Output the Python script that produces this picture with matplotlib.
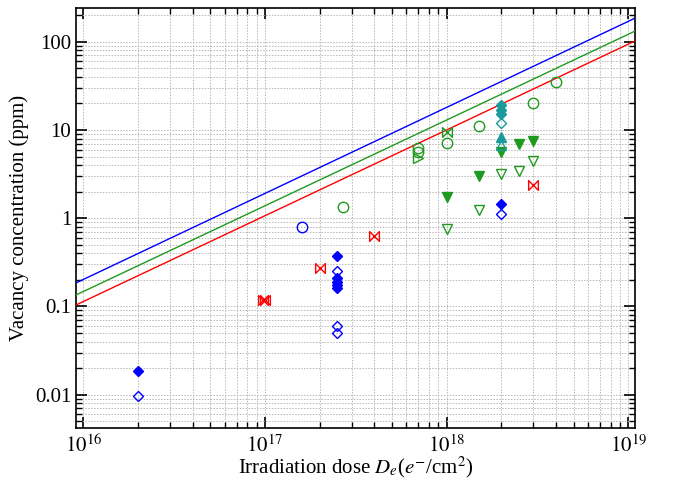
import matplotlib.pyplot as plt
from matplotlib.path import Path

plt.rcParams['font.family'] = ['Liberation Serif', 'DejaVu Serif']
plt.rcParams['mathtext.fontset'] = 'stix'

# ==== data (dose in e-/cm2, concentration in ppm) ====
line_x = [9.1e15, 1.09e19]
line_blue_y = [0.185, 185]
line_green_y = [0.135, 132]
line_red_y = [0.104, 102]

blue_fd_x = [2e16, 2.5e17, 2.5e17, 2.5e17, 2.5e17, 2.5e17, 2e18]
blue_fd_y = [0.0187, 0.37, 0.21, 0.19, 0.175, 0.16, 1.44]
blue_od_x = [2e16, 2.5e17, 2.5e17, 2.5e17, 2e18]
blue_od_y = [0.0097, 0.25, 0.06, 0.05, 1.12]
blue_oc_x = [1.6e17]
blue_oc_y = [0.80]

red_bt_x = [0.97e17, 1.0e17, 2e17, 4e17, 3e18]
red_bt_y = [0.118, 0.118, 0.273, 0.63, 2.38]

green_oc_x = [2.7e17, 7e17, 7e17, 1e18, 1.5e18, 3e18, 4e18]
green_oc_y = [1.34, 6.2, 5.7, 7.06, 11.2, 20.4, 35]
green_bt_x = [1e18]
green_bt_y = [9.6]
green_otr_x = [7e17]
green_otr_y = [4.8]
green_ftd_x = [1e18, 1.5e18, 2e18, 2.5e18, 3e18]
green_ftd_y = [1.73, 3.0, 5.7, 6.9, 7.6]
green_otd_x = [1e18, 1.5e18, 2e18, 2.5e18, 3e18]
green_otd_y = [0.757, 1.24, 3.18, 3.44, 4.4]

teal_fd_x = [2e18, 2e18, 2e18]
teal_fd_y = [19, 17, 15]
teal_od_x = [2e18]
teal_od_y = [12.1]
teal_ftu_x = [2e18]
teal_ftu_y = [8.3]
teal_otu_x = [2e18]
teal_otu_y = [6.8]

GREEN = "#1f9a1f"
TEAL = "#1a9a9a"

bowtie = Path([(-1, 1), (1, -1), (1, 1), (-1, -1), (-1, 1)],
              [Path.MOVETO, Path.LINETO, Path.LINETO, Path.LINETO, Path.CLOSEPOLY])

fig = plt.figure(figsize=(6.73, 4.83), dpi=100)
ax = fig.add_axes([0.113, 0.114, 0.8305, 0.869])
ax.set_xscale("log")
ax.set_yscale("log")

# ==== lines ====
ax.plot(line_x, line_blue_y, color="blue", lw=1.0, zorder=3)
ax.plot(line_x, line_green_y, color=GREEN, lw=1.0, zorder=3)
ax.plot(line_x, line_red_y, color="red", lw=1.0, zorder=3)

def pts(x, y, color, marker, filled, ms=7):
    ax.plot(x, y, ls="none", marker=marker, ms=ms, mew=1.0,
            mec=color, mfc=color if filled else "none", zorder=4)

pts(blue_fd_x, blue_fd_y, "blue", "D", True, 5.5)
pts(blue_od_x, blue_od_y, "blue", "D", False, 5.5)
pts(blue_oc_x, blue_oc_y, "blue", "o", False, 7.5)
pts(red_bt_x, red_bt_y, "red", bowtie, False, 7)
pts(green_oc_x, green_oc_y, GREEN, "o", False, 7.5)
pts(green_bt_x, green_bt_y, GREEN, bowtie, False, 7)
pts(green_otr_x, green_otr_y, GREEN, ">", False, 7)
pts(green_ftd_x, green_ftd_y, GREEN, "v", True, 7.5)
pts(green_otd_x, green_otd_y, GREEN, "v", False, 7.5)
pts(teal_fd_x, teal_fd_y, TEAL, "D", True, 5.5)
pts(teal_od_x, teal_od_y, TEAL, "D", False, 5.5)
pts(teal_ftu_x, teal_ftu_y, TEAL, "^", True, 7.5)
pts(teal_otu_x, teal_otu_y, TEAL, "^", False, 7.5)

# ==== axes ====
ax.set_xlim(9.1e15, 1.09e19)
ax.set_ylim(0.0042, 240)
ax.set_yticks([0.01, 0.1, 1, 10, 100])
ax.set_yticklabels(["0.01", "0.1", "1", "10", "100"])
ax.set_xticks([1e16, 1e17, 1e18, 1e19])
ax.set_xticklabels([r"$10^{16}$", r"$10^{17}$", r"$10^{18}$", r"$10^{19}$"])
ax.tick_params(which="both", direction="in", top=True, right=True, labelsize=15)
ax.tick_params(which="major", length=8, width=1.2)
ax.tick_params(axis="x", which="major", pad=5)
ax.tick_params(which="minor", length=4, width=1.0)
ax.grid(True, which="both", color="#b8b8b8", ls=(0, (1.5, 1.5)), lw=0.7)
for s in ax.spines.values():
    s.set_linewidth(1.2)

ax.set_xlabel(r"Irradiation dose $D_e$($e^{-}$/cm$^2$)", fontsize=15, labelpad=-2)
ax.set_ylabel("Vacancy concentration (ppm)", fontsize=15, labelpad=4)

plt.savefig("out.png", dpi=100)
plt.close()
